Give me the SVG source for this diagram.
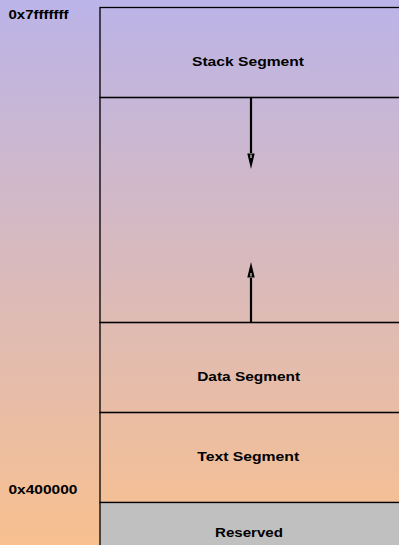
<svg xmlns="http://www.w3.org/2000/svg" width="399" height="545" viewBox="0 0 399 545">
  <defs>
    <linearGradient id="bg" x1="0" y1="0" x2="0" y2="1">
      <stop offset="0" stop-color="#bbb4e8"/>
      <stop offset="1" stop-color="#f8c08f"/>
    </linearGradient>
    <marker id="head" viewBox="0 0 16 8" refX="0" refY="4" markerWidth="16" markerHeight="8" markerUnits="userSpaceOnUse" orient="auto">
      <path d="M0.5,0.3 L16,4 L0.5,7.7 Z" fill="#000000"/>
      <path d="M1.5,4 L5,4" stroke="#ffffff" stroke-width="1"/>
    </marker>
    <style>
      .seg { fill: none; stroke: #000000; stroke-width: 1.3; }
      .lbl { font-family: "Liberation Sans", Arial, sans-serif; font-weight: bold; font-size: 13.5px; fill: #000000; }
      .mid { text-anchor: middle; }
      .arrow { stroke: #000000; stroke-width: 2.2; fill: none; }
    </style>
  </defs>
  <rect x="0" y="0" width="399" height="545" fill="url(#bg)"/>

  <g id="addr-top">
    <text class="lbl" x="8.5" y="18.5" textLength="60" lengthAdjust="spacingAndGlyphs">0x7fffffff</text>
  </g>
  <g id="addr-bottom">
    <text class="lbl" x="8.5" y="494" textLength="69" lengthAdjust="spacingAndGlyphs">0x400000</text>
  </g>

  <g id="stack">
    <rect class="seg" x="100" y="7.5" width="310" height="90"/>
    <text class="lbl mid" x="248" y="66" textLength="112" lengthAdjust="spacingAndGlyphs">Stack Segment</text>
  </g>
  <g id="free">
    <rect class="seg" x="100" y="97.5" width="310" height="225"/>
  </g>
  <g id="data">
    <rect class="seg" x="100" y="322.5" width="310" height="90"/>
    <text class="lbl mid" x="248.7" y="381" textLength="103" lengthAdjust="spacingAndGlyphs">Data Segment</text>
  </g>
  <g id="text">
    <rect class="seg" x="100" y="412.5" width="310" height="90"/>
    <text class="lbl mid" x="248.2" y="461" textLength="102" lengthAdjust="spacingAndGlyphs">Text Segment</text>
  </g>
  <g id="reserved">
    <rect x="100" y="502.5" width="310" height="60" fill="#c0c0c0" stroke="#000000" stroke-width="1.3"/>
    <text class="lbl mid" x="249" y="537" textLength="68" lengthAdjust="spacingAndGlyphs">Reserved</text>
  </g>

  <g id="connectors">
    <line class="arrow" x1="251" y1="97.5" x2="251" y2="153" marker-end="url(#head)"/>
    <line class="arrow" x1="251" y1="322.5" x2="251" y2="278" marker-end="url(#head)"/>
  </g>
</svg>
